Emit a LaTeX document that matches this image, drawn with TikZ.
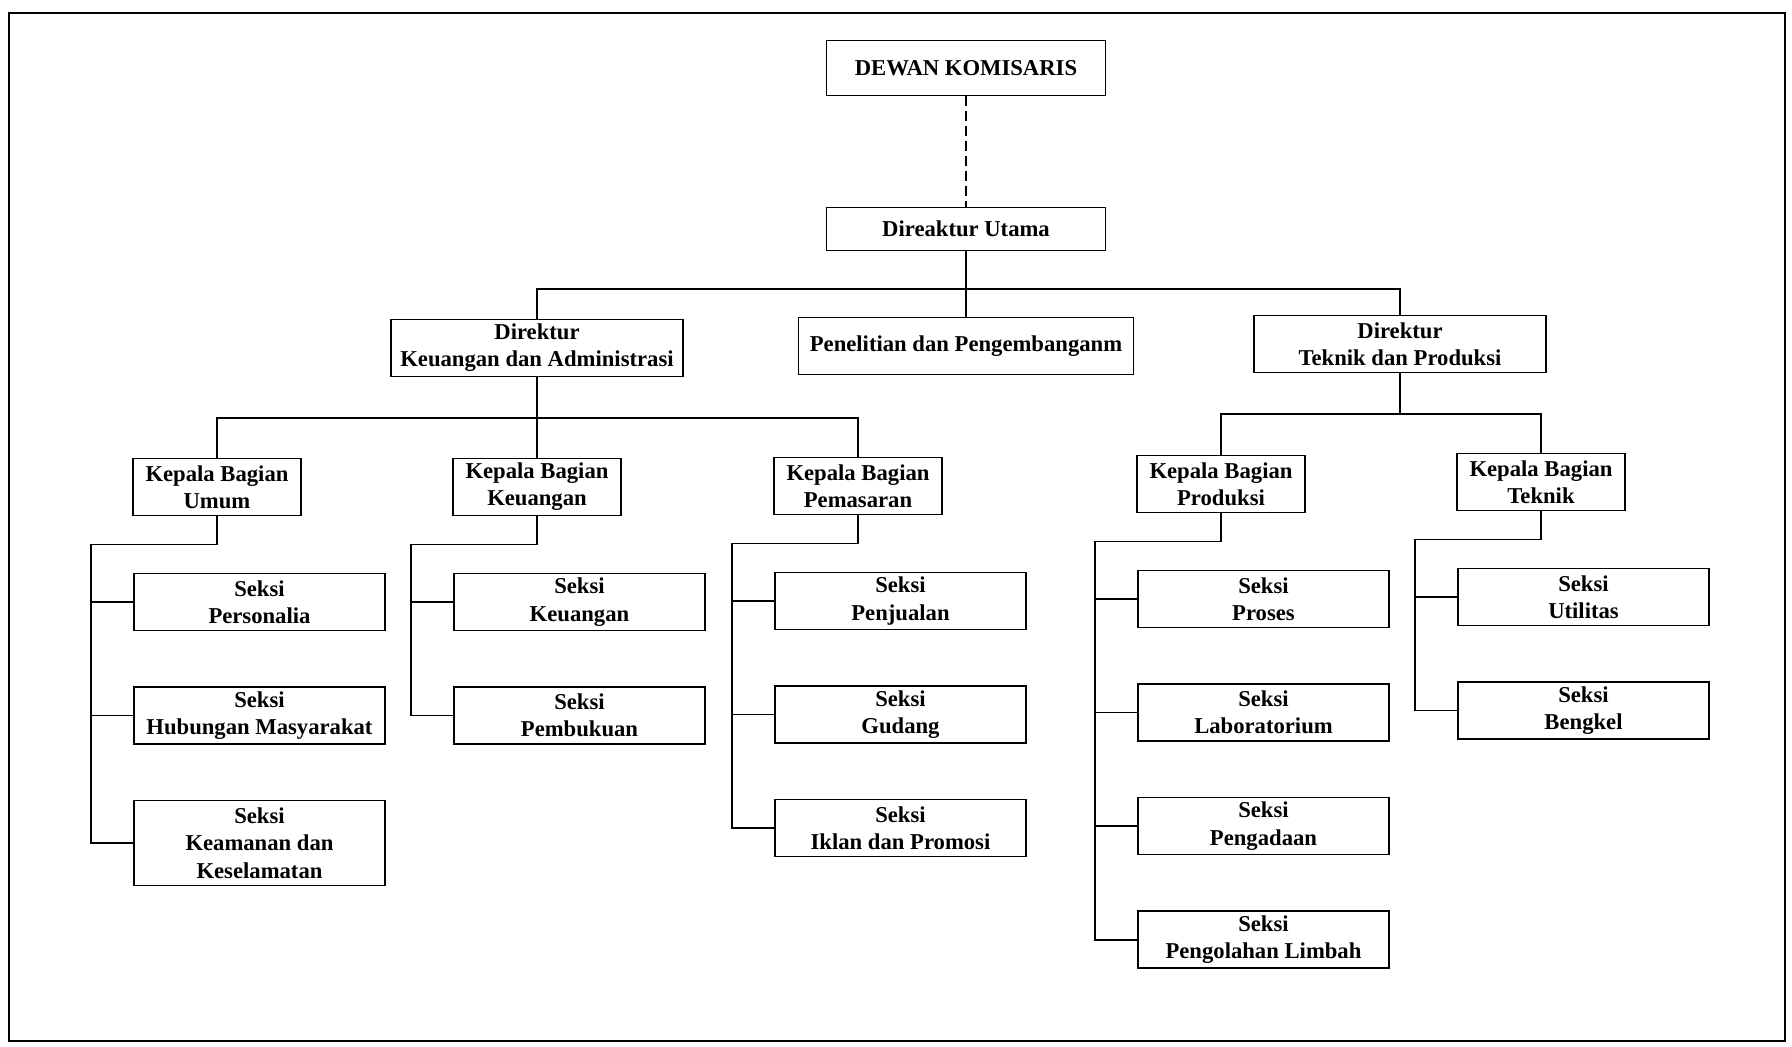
\documentclass[tikz,border=0pt]{standalone}
\usepackage{fontspec}
\setmainfont{Liberation Serif}
\usepackage{tikz}
\usetikzlibrary{positioning, calc}

\begin{document}
\begin{tikzpicture}[
    x=0.02cm, y=0.02cm,
    node distance=1.1cm and 0.02cm,
    box/.style={
        draw=black,
        fill=white,
        align=center,
        inner sep=0pt,
        minimum height=1.14cm,
        font=\fontsize{12.9}{15.5}\selectfont\bfseries,
        line width=0.9pt
    },
    top/.style={
        box,
        minimum width=5.58cm
    },
    dir/.style={
        box,
        minimum width=5.84cm
    },
    kabag/.style={
        box,
        minimum width=3.36cm
    },
    seksi/.style={
        box,
        minimum width=5.02cm
    },
    line/.style={
        line width=0.9pt,
        draw=black
    },
    frame/.style={
        line width=1.6pt,
        draw=black
    }
]
\useasboundingbox (0,0) rectangle (1792,-1046);
\draw [frame] (9,-13) rectangle (1785,-1041);

% Nodes
\node (dk) [top, minimum height=1.1cm] at (966,-68) {DEWAN KOMISARIS};
\node (du) [top, minimum height=0.86cm] at (966,-229) {Direaktur Utama};

\node (dirkeu) [dir] at (537,-348) {Direktur\\Keuangan dan Administrasi};
\node (litbang) [box, minimum width=6.7cm] at (966,-346) {Penelitian dan Pengembanganm};
\node (dirtek) [dir] at (1400,-344) {Direktur\\Teknik dan Produksi};

\node (kbumum) [kabag] at (217,-487) {Kepala Bagian\\Umum};
\node (kbkeu) [kabag] at (537,-487) {Kepala Bagian\\Keuangan};
\node (kbpem) [kabag] at (858,-486) {Kepala Bagian\\Pemasaran};
\node (kbprod) [kabag] at (1221,-484) {Kepala Bagian\\Produksi};
\node (kbtek) [kabag] at (1541,-482) {Kepala Bagian\\Teknik};

\node (skpers) [seksi, below right=1.13cm and 0.02cm of kbumum.south west] {Seksi\\Personalia};
\node (skhumas) [seksi, below=of skpers] {Seksi\\Hubungan Masyarakat};
\node (skkeam) [seksi, below=of skhumas, minimum height=1.7cm] {Seksi\\Keamanan dan\\Keselamatan};

\node (skkeu) [seksi, below right=1.13cm and 0.02cm of kbkeu.south west] {Seksi\\Keuangan};
\node (skbuku) [seksi, below=of skkeu] {Seksi\\Pembukuan};

\node (skjual) [seksi, below right=1.13cm and 0.02cm of kbpem.south west] {Seksi\\Penjualan};
\node (skgudang) [seksi, below=of skjual] {Seksi\\Gudang};
\node (skiklan) [seksi, below=of skgudang] {Seksi\\Iklan dan Promosi};

\node (skproses) [seksi, below right=1.13cm and 0.02cm of kbprod.south west] {Seksi\\Proses};
\node (sklab) [seksi, below=of skproses] {Seksi\\Laboratorium};
\node (skadaan) [seksi, below=of sklab] {Seksi\\Pengadaan};
\node (sklimbah) [seksi, below=of skadaan] {Seksi\\Pengolahan Limbah};

\node (skutil) [seksi, below right=1.13cm and 0.02cm of kbtek.south west] {Seksi\\Utilitas};
\node (skbengkel) [seksi, below=of skutil] {Seksi\\Bengkel};

% Bus points
\coordinate (bus1) at (966,-289);
\coordinate (bus2) at (537,-418);
\coordinate (bus3) at (1400,-414);
\coordinate (spumum) at ($(kbumum.south west)+(-41,-28)$);
\coordinate (spkeu) at ($(kbkeu.south west)+(-41,-28)$);
\coordinate (sppem) at ($(kbpem.south west)+(-41,-28)$);
\coordinate (spprod) at ($(kbprod.south west)+(-41,-28)$);
\coordinate (sptek) at ($(kbtek.south west)+(-41,-28)$);

% Paths
\draw [line, dash pattern=on 5.5pt off 3pt] (dk) -- (du);
\draw [line] (du) -- (litbang);
\draw [line] (dirkeu.north) |- (bus1) -| (dirtek.north);

\draw [line] (dirkeu) -- (kbkeu);
\draw [line] (kbumum.north) |- (bus2) -| (kbpem.north);
\draw [line] (dirtek.south) -- (bus3);
\draw [line] (kbprod.north) |- (bus3) -| (kbtek.north);

\draw [line] (kbumum.south) |- (spumum);
\draw [line] (kbkeu.south) |- (spkeu);
\draw [line] (kbpem.south) |- (sppem);
\draw [line] (kbprod.south) |- (spprod);
\draw [line] (kbtek.south) |- (sptek);

\foreach \s in {skpers, skhumas, skkeam}
    \draw [line] (spumum) |- (\s.west);
\foreach \s in {skkeu, skbuku}
    \draw [line] (spkeu) |- (\s.west);
\foreach \s in {skjual, skgudang, skiklan}
    \draw [line] (sppem) |- (\s.west);
\foreach \s in {skproses, sklab, skadaan, sklimbah}
    \draw [line] (spprod) |- (\s.west);
\foreach \s in {skutil, skbengkel}
    \draw [line] (sptek) |- (\s.west);

\end{tikzpicture}
\end{document}
